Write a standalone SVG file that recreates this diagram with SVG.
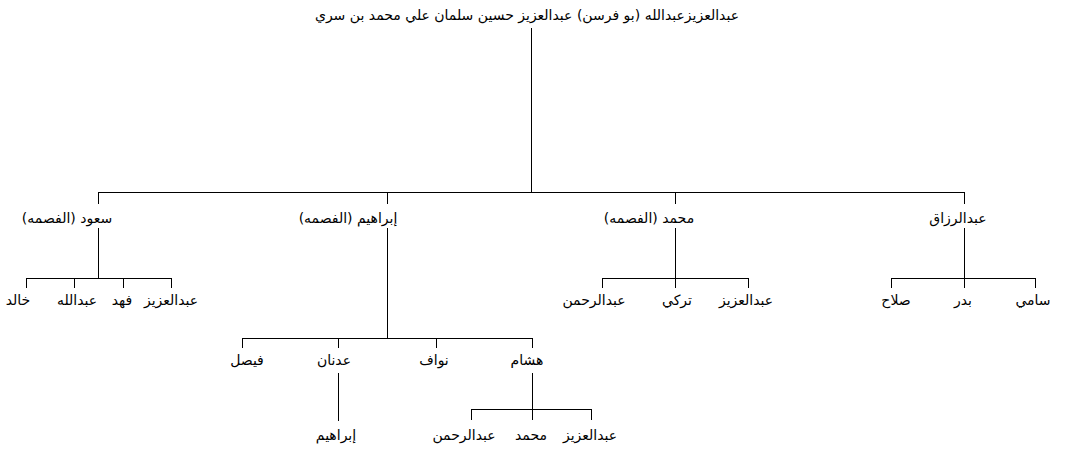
<svg xmlns="http://www.w3.org/2000/svg" width="1069" height="449" viewBox="0 0 1069 449">
<style>
  .bg { fill: #ffffff; }
  .lbl { font-family: "DejaVu Sans", "Liberation Sans", sans-serif; font-size: 14px; fill: #000000; text-anchor: middle; direction: rtl; unicode-bidi: embed; }
  .conn line { stroke: #000000; stroke-width: 1; shape-rendering: crispEdges; }
</style>
<rect class="bg" x="0" y="0" width="1069" height="449"/>
<g id="connectors" class="conn">
  <line x1="531.5" y1="28" x2="531.5" y2="192.5"/>
  <line x1="98" y1="192.5" x2="965" y2="192.5"/>
  <line x1="98.5" y1="192" x2="98.5" y2="204"/>
  <line x1="387.5" y1="192" x2="387.5" y2="204"/>
  <line x1="675.5" y1="192" x2="675.5" y2="204"/>
  <line x1="964.5" y1="192" x2="964.5" y2="204"/>
  <line x1="98.5" y1="228" x2="98.5" y2="278.5"/>
  <line x1="26" y1="278.5" x2="172" y2="278.5"/>
  <line x1="26.5" y1="278" x2="26.5" y2="288"/>
  <line x1="74.5" y1="278" x2="74.5" y2="288"/>
  <line x1="123.5" y1="278" x2="123.5" y2="288"/>
  <line x1="171.5" y1="278" x2="171.5" y2="288"/>
  <line x1="675.5" y1="228" x2="675.5" y2="278.5"/>
  <line x1="602" y1="278.5" x2="749" y2="278.5"/>
  <line x1="602.5" y1="278" x2="602.5" y2="288"/>
  <line x1="675.5" y1="278" x2="675.5" y2="288"/>
  <line x1="748.5" y1="278" x2="748.5" y2="288"/>
  <line x1="964.5" y1="228" x2="964.5" y2="278.5"/>
  <line x1="891" y1="278.5" x2="1036" y2="278.5"/>
  <line x1="891.5" y1="278" x2="891.5" y2="288"/>
  <line x1="964.5" y1="278" x2="964.5" y2="288"/>
  <line x1="1035.5" y1="278" x2="1035.5" y2="288"/>
  <line x1="387.5" y1="228" x2="387.5" y2="338.5"/>
  <line x1="242" y1="338.5" x2="533" y2="338.5"/>
  <line x1="242.5" y1="338" x2="242.5" y2="348"/>
  <line x1="338.5" y1="338" x2="338.5" y2="348"/>
  <line x1="436.5" y1="338" x2="436.5" y2="348"/>
  <line x1="532.5" y1="338" x2="532.5" y2="348"/>
  <line x1="338.5" y1="373" x2="338.5" y2="421"/>
  <line x1="532.5" y1="373" x2="532.5" y2="409.5"/>
  <line x1="471" y1="409.5" x2="592" y2="409.5"/>
  <line x1="471.5" y1="409" x2="471.5" y2="420"/>
  <line x1="532.5" y1="409" x2="532.5" y2="420"/>
  <line x1="591.5" y1="409" x2="591.5" y2="420"/>
</g>
<g id="n-root"><text class="lbl" x="527" y="20">عبدالعزيزعبدالله (بو فرسن) عبدالعزيز حسين سلمان علي محمد بن سري</text></g>
<g id="n-saud"><text class="lbl" x="67" y="223">سعود (الفصمه)</text></g>
<g id="n-ibrahim"><text class="lbl" x="348" y="223">إبراهيم (الفصمه)</text></g>
<g id="n-mohammed"><text class="lbl" x="649" y="223">محمد (الفصمه)</text></g>
<g id="n-abdulrazzaq"><text class="lbl" x="958" y="223">عبدالرزاق</text></g>
<g id="n-saud-khalid"><text class="lbl" x="18" y="305">خالد</text></g>
<g id="n-saud-abdullah"><text class="lbl" x="77" y="305">عبدالله</text></g>
<g id="n-saud-fahd"><text class="lbl" x="122" y="305">فهد</text></g>
<g id="n-saud-abdulaziz"><text class="lbl" x="171" y="305">عبدالعزيز</text></g>
<g id="n-moh-abdulrahman"><text class="lbl" x="594" y="305">عبدالرحمن</text></g>
<g id="n-moh-turki"><text class="lbl" x="677" y="305">تركي</text></g>
<g id="n-moh-abdulaziz"><text class="lbl" x="746" y="305">عبدالعزيز</text></g>
<g id="n-raz-salah"><text class="lbl" x="896" y="305">صلاح</text></g>
<g id="n-raz-badr"><text class="lbl" x="963" y="305">بدر</text></g>
<g id="n-raz-sami"><text class="lbl" x="1033" y="305">سامي</text></g>
<g id="n-ib-faisal"><text class="lbl" x="247" y="365">فيصل</text></g>
<g id="n-ib-adnan"><text class="lbl" x="334" y="365">عدنان</text></g>
<g id="n-ib-nawaf"><text class="lbl" x="434" y="365">نواف</text></g>
<g id="n-ib-hisham"><text class="lbl" x="527" y="365">هشام</text></g>
<g id="n-adnan-ibrahim"><text class="lbl" x="336" y="440">إبراهيم</text></g>
<g id="n-hisham-abdulrahman"><text class="lbl" x="464" y="440">عبدالرحمن</text></g>
<g id="n-hisham-mohammed"><text class="lbl" x="531" y="440">محمد</text></g>
<g id="n-hisham-abdulaziz"><text class="lbl" x="590" y="440">عبدالعزيز</text></g>
</svg>
